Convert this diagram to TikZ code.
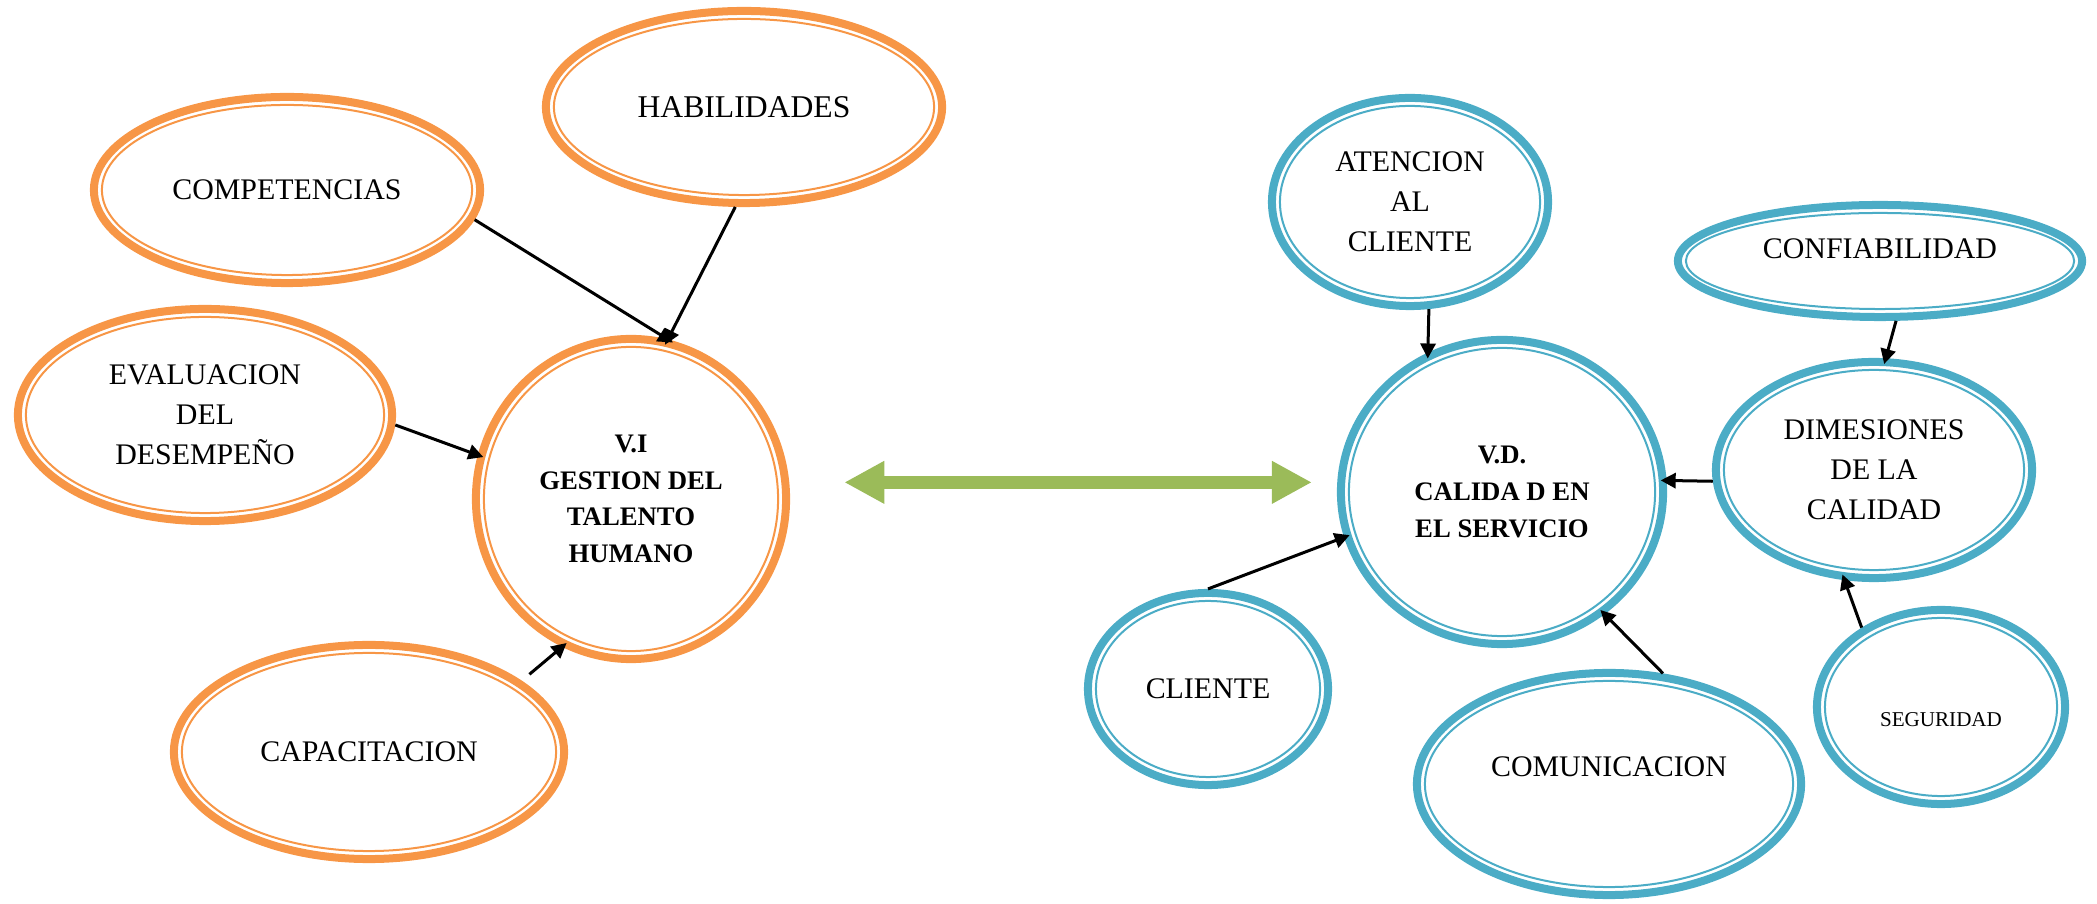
\documentclass[tikz,border=0pt]{standalone}
\usepackage{fontspec}
\setmainfont{Liberation Serif}
\usepackage{tikz}
\usetikzlibrary{shapes.geometric, arrows.meta, calc}
\definecolor{talentcolor}{RGB}{247, 150, 70}
\definecolor{servicecolor}{RGB}{75, 172, 198}
\definecolor{linkcolor}{RGB}{155, 187, 89}

\begin{document}
\begin{tikzpicture}[
    x=0.01cm, y=-0.01cm,
    ring/.style={draw=#1, ellipse, line width=0.08cm, inner sep=0pt, align=center, font=\fontsize{8.5}{11.4}\selectfont},
    innerring/.style={draw=#1, line width=0.02cm},
    boldtext/.style={font=\fontsize{7.6}{10.4}\selectfont\bfseries},
    link/.style={-{Triangle[length=0.15cm, width=0.15cm]}, line width=0.03cm, shorten >=-0.06cm},
    bothway/.style={draw=linkcolor, line width=0.13cm, {Triangle[length=0.4cm, width=0.4cm]}-{Triangle[length=0.4cm, width=0.4cm]}}
]
    \useasboundingbox (0,0) rectangle (2097,904);

    % Independent variable
    \node[ring=talentcolor, minimum width=3.86cm, minimum height=1.86cm] (comp) at (287,190) {COMPETENCIAS};
    \node[ring=talentcolor, minimum width=3.96cm, minimum height=1.92cm, font=\fontsize{9}{11}\selectfont] (hab) at (744,107) {HABILIDADES};
    \node[ring=talentcolor, minimum width=3.74cm, minimum height=2.12cm] (eval) at (205,415) {EVALUACION\\DEL\\DESEMPEÑO};
    \node[ring=talentcolor, boldtext, minimum width=3.10cm, minimum height=3.20cm] (vi) at (631,499) {V.I\\GESTION DEL\\TALENTO\\HUMANO};
    \node[ring=talentcolor, minimum width=3.90cm, minimum height=2.14cm] (cap) at (369,752) {CAPACITACION};

    % Dependent variable
    \node[ring=servicecolor, minimum width=2.76cm, minimum height=2.08cm] (aten) at (1410,202) {ATENCION\\AL\\CLIENTE};
    \node[ring=servicecolor, boldtext, minimum width=3.22cm, minimum height=3.04cm] (vd) at (1502,492) {V.D.\\CALIDA D EN\\EL SERVICIO};
    \node[ring=servicecolor, minimum width=4.04cm, minimum height=1.12cm, text depth=0.24cm] (conf) at (1880,261) {CONFIABILIDAD};
    \node[ring=servicecolor, minimum width=3.16cm, minimum height=2.16cm] (dim) at (1874,470) {DIMESIONES\\DE LA\\CALIDAD};
    \node[ring=servicecolor, minimum width=2.40cm, minimum height=1.92cm] (cli) at (1208,689) {CLIENTE};
    \node[ring=servicecolor, minimum width=3.84cm, minimum height=2.22cm, text depth=0.34cm] (com) at (1609,784) {COMUNICACION};
    \node[ring=servicecolor, minimum width=2.48cm, minimum height=1.94cm, font=\fontsize{6}{7}\selectfont, text height=0.40cm] (seg) at (1941,707) {SEGURIDAD};

    % Inner rings
    \foreach \nd in {comp,hab,eval,vi,cap}
        \draw[innerring=talentcolor] let \p1=($(\nd.east)-(\nd.center)$), \p2=($(\nd.north)-(\nd.center)$) in (\nd.center) ellipse [x radius=\x1-0.12cm, y radius=\y2-0.12cm];
    \foreach \nd in {aten,vd,conf,dim,cli,com,seg}
        \draw[innerring=servicecolor] let \p1=($(\nd.east)-(\nd.center)$), \p2=($(\nd.north)-(\nd.center)$) in (\nd.center) ellipse [x radius=\x1-0.12cm, y radius=\y2-0.12cm];

    % Arrows
    \draw[link] (comp.-9) -- (vi.77);
    \draw[link] (hab.-95) -- (vi.77);
    \draw[link] (eval.-3) -- (vi.164);
    \draw[link, shorten <=0.1cm] (cap.25) -- (vi.-115);
    \draw[link] (aten.-80) -- (vd.118);
    \draw[link] (conf.-75) -- (dim.84);
    \draw[link] (dim.184) -- (vd.4);
    \draw[link] (cli.90) -- (vd.196);
    \draw[link] (com.64) -- (vd.-50);
    \draw[link] (seg.135) -- (dim.-105);

    % Relation
    \draw[bothway, shorten <=0.55cm, shorten >=0.25cm] (vi.6) -- (vi.6 -| vd.west);
\end{tikzpicture}
\end{document}
